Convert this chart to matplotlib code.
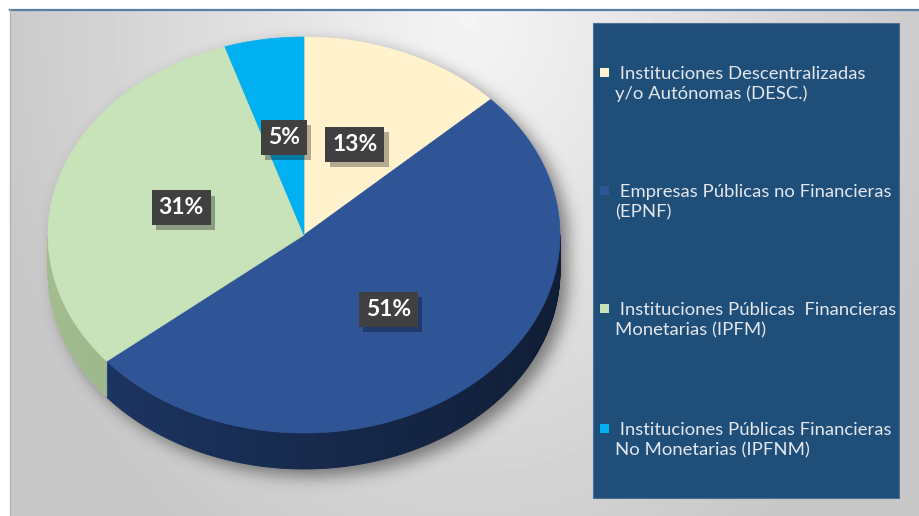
import numpy as np
import matplotlib
matplotlib.use('Agg')
import matplotlib.pyplot as plt
import matplotlib.patheffects as pe
from matplotlib.patches import Polygon, Rectangle
from matplotlib.colors import to_rgb

plt.rcParams['font.family'] = ['Lato', 'DejaVu Sans']

# Data
labels = [
    " Instituciones Descentralizadas\ny/o Autónomas (DESC.)",
    " Empresas Públicas no Financieras\n(EPNF)",
    " Instituciones Públicas  Financieras\nMonetarias (IPFM)",
    " Instituciones Públicas Financieras\nNo Monetarias (IPFNM)",
]
shares = [13, 51, 31, 5]
top_colors = ['#FFF2CC', '#2F5597', '#C8E2B9', '#00B0F0']
side_colors = [('#E3D6AC', '#CFC399'), ('#1D3766', '#101D36'),
               ('#A2BC90', '#8CA47C'), ('#0094CA', '#0079A8')]

W, H = 920, 516
fig = plt.figure(figsize=(W / 100, H / 100), dpi=100)
fig.patch.set_facecolor('white')
ax = fig.add_axes([0, 0, 1, 1])

# soft gray background of the chart area
X, Y = np.meshgrid(np.arange(10, W) + 0.5, np.arange(10, H) + 0.5)
d = np.sqrt(((X - 470) / 470) ** 2 + ((Y - 20) / 600) ** 2)
bg = 0.96 - 0.17 * np.clip(d, 0, 1.05)
ax.imshow(bg, cmap='gray', vmin=0, vmax=1, extent=(10, W, H, 10),
          aspect='auto', interpolation='bilinear', zorder=0)

# pie geometry (pixels)
cx, cy, a, b, depth = 304, 235, 256, 198, 36


def pt(theta, dy=0.0):
    t = np.radians(theta)
    return cx + a * np.sin(t), cy - b * np.cos(t) + dy


# blurred drop shadow under the pie
ox, oy = 8, 7
Xf, Yf = np.meshgrid(np.arange(W) + 0.5, np.arange(H) + 0.5)
e1 = ((Xf - cx - ox) / a) ** 2 + ((Yf - cy - oy) / b) ** 2 <= 1
e2 = ((Xf - cx - ox) / a) ** 2 + ((Yf - cy - depth - oy) / b) ** 2 <= 1
band = (np.abs(Xf - cx - ox) <= a) & (Yf >= cy + oy) & (Yf <= cy + depth + oy)
mask = (e1 | e2 | band).astype(float)
sig = 8
k = np.exp(-0.5 * (np.arange(-3 * sig, 3 * sig + 1) / sig) ** 2)
k /= k.sum()
blur = np.apply_along_axis(lambda r: np.convolve(r, k, mode='same'), 1, mask)
blur = np.apply_along_axis(lambda c: np.convolve(c, k, mode='same'), 0, blur)
shadow = np.zeros((H, W, 4))
shadow[..., 3] = 0.45 * blur
ax.imshow(shadow, extent=(0, W, H, 0), aspect='auto', zorder=1)

total = sum(shares)
ends = np.cumsum(shares) / total * 360
starts = np.concatenate([[0], ends[:-1]])

# side walls of the pie (front half only)
for s, e, (c0, c1) in zip(starts, ends, side_colors):
    lo, hi = max(s, 90), min(e, 270)
    if lo >= hi:
        continue
    th = np.linspace(lo, hi, int(hi - lo) * 2 + 2)
    c0, c1 = np.array(to_rgb(c0)), np.array(to_rgb(c1))
    for t0, t1 in zip(th[:-1], th[1:]):
        x0, y0 = pt(t0)
        x1, y1 = pt(t1)
        f = np.clip(((x0 + x1) / 2 - (cx - a)) / (2 * a), 0, 1)
        col = c0 + (c1 - c0) * f
        ax.add_patch(Polygon([(x0, y0), (x1, y1), (x1, y1 + depth), (x0, y0 + depth)],
                             closed=True, fc=col, ec=col, lw=0.6, zorder=2))

# top face
for s, e, c in zip(starts, ends, top_colors):
    th = np.linspace(s, e, int(e - s) * 2 + 2)
    xs, ys = pt(th)
    verts = [(cx, cy)] + list(zip(xs, ys))
    ax.add_patch(Polygon(verts, closed=True, fc=c, ec=c, lw=0.5, zorder=3))

# percentage labels in dark boxes with a small drop shadow
for s, e, v in zip(starts, ends, shares):
    m = np.radians((s + e) / 2)
    lx, ly = cx + 0.5 * a * np.sin(m), cy - 0.5 * b * np.cos(m)
    t = ax.text(lx, ly, f"{v}%", fontsize=16.5, fontweight='bold', color='white',
                ha='center', va='center', zorder=5,
                bbox=dict(boxstyle='square,pad=0.3', fc='#404040', ec='none'))
    t.get_bbox_patch().set_path_effects([
        pe.SimplePatchShadow(offset=(3, -4), shadow_rgbFace='black', alpha=0.3),
        pe.Normal()])

# legend panel
ax.add_patch(Rectangle((593, 23), 306, 475, fc='#1F4E79', ec='#4C6F96', lw=0.8, zorder=4))
legend_y = [84, 202, 320, 440]
for lab, c, yy in zip(labels, top_colors, legend_y):
    ax.add_patch(Rectangle((600, yy - 16.5), 9, 9, fc=c, ec='none', zorder=5))
    ax.text(615, yy, lab, fontsize=13.3, color='#E4E7EC', ha='left', va='center',
            linespacing=1.3, zorder=5)

# frame lines
ax.plot([10, W], [10, 10], color='#5B7DA6', lw=1.6, zorder=6)
ax.plot([10, 10], [10, H], color='#B4B4B4', lw=1.0, zorder=6)

ax.set_xlim(0, W)
ax.set_ylim(H, 0)
ax.axis('off')

fig.savefig('out.png', dpi=100, facecolor='white')
